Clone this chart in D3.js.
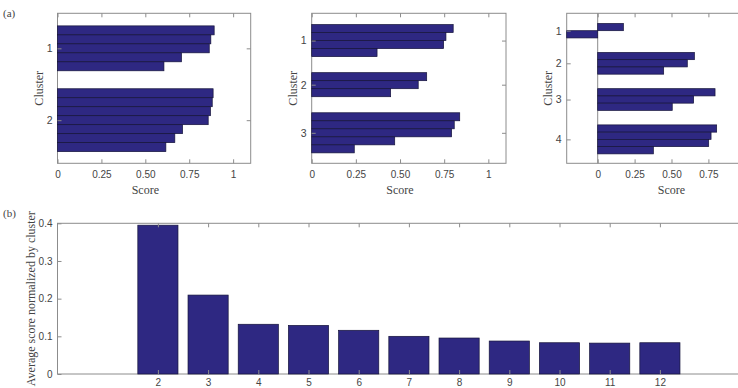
<html>
<head>
<script src="https://d3js.org/d3.v7.min.js"></script>
<style>
body { margin: 0; background: #fff; }
svg { font-family: "Liberation Serif", "Times New Roman", serif; }
.axis text { font-size: 10px; fill: #444; }
.axis line { stroke: #8c8c8c; }
.axis path { display: none; }
.box { fill: none; stroke: #8c8c8c; stroke-width: 1; }
.label { font-size: 12px; fill: #444; }
rect.bar { fill: #2e2882; stroke: #15133a; stroke-width: 0.7; }
</style>
</head>
<body>
<div id="plot"></div>
<script>
// Silhouette scores per cluster, panel (a)
var scores2 = [
  [0.892, 0.873, 0.864, 0.706, 0.606],
  [0.886, 0.881, 0.871, 0.858, 0.712, 0.668, 0.617]
];
var scores3 = [
  [0.801, 0.760, 0.747, 0.370],
  [0.651, 0.603, 0.447],
  [0.838, 0.807, 0.792, 0.470, 0.241]
];
var scores4 = [
  [0.174, -0.21],
  [0.655, 0.607, 0.447],
  [0.795, 0.650, 0.505],
  [0.806, 0.768, 0.752, 0.377]
];
var scoreTicks = [0, 0.25, 0.5, 0.75, 1];

// Panel (b)
var kValues = [2, 3, 4, 5, 6, 7, 8, 9, 10, 11, 12];
var avgScores = [0.395, 0.2095, 0.132, 0.129, 0.116, 0.100, 0.0955, 0.0875, 0.083, 0.082, 0.083];
var avgTicks = [0, 0.1, 0.2, 0.3, 0.4];

var width = 738, height = 388;
var svg = d3.select("#plot").append("svg").attr("width", width).attr("height", height);

var scoreFormat = function (d) { return (d === 0 || d === 1) ? d : d.toFixed(2); };

// One silhouette panel: bars stacked per cluster with gaps between clusters
function silhouette(data, left, right, top, bottom, xDomain, ticks) {
  var padTop = 1.4, padBottom = 1.3, gap = 2;
  var total = padTop + padBottom + gap * (data.length - 1) + d3.sum(data, function (c) { return c.length; });

  var x = d3.scaleLinear().domain(xDomain).range([left, right]);
  var y = d3.scaleLinear().domain([0, total]).range([top, bottom]);

  var g = svg.append("g");
  var rows = [], centers = [];
  var pos = padTop;
  data.forEach(function (c, ci) {
    centers.push({ name: ci + 1, pos: pos + c.length / 2 });
    c.forEach(function (v) { rows.push({ v: v, pos: pos }); pos += 1; });
    pos += gap;
  });

  g.append("rect").attr("class", "box")
    .attr("x", left).attr("y", top).attr("width", right - left).attr("height", bottom - top);

  if (xDomain[0] < 0) {
    g.append("line").attr("x1", x(0)).attr("x2", x(0)).attr("y1", top).attr("y2", bottom)
      .attr("stroke", "#8c8c8c");
  }

  g.selectAll("rect.bar").data(rows).enter().append("rect").attr("class", "bar")
    .attr("x", function (d) { return x(Math.min(0, d.v)); })
    .attr("width", function (d) { return Math.abs(x(d.v) - x(0)); })
    .attr("y", function (d) { return y(d.pos); })
    .attr("height", function (d) { return y(d.pos + 1) - y(d.pos); });

  g.append("g").attr("class", "axis").attr("transform", "translate(0," + bottom + ")")
    .call(d3.axisBottom(x).tickValues(ticks).tickFormat(scoreFormat).tickSize(-4).tickPadding(8));
  g.append("g").attr("class", "axis").attr("transform", "translate(0," + top + ")")
    .call(d3.axisTop(x).tickValues(ticks).tickFormat("").tickSize(-4));

  var la = g.append("g").attr("class", "axis").attr("transform", "translate(" + left + ",0)")
    .call(d3.axisLeft(y).tickValues(centers.map(function (c) { return c.pos; }))
      .tickFormat(function (d, i) { return centers[i].name; }).tickSize(-4).tickPadding(5));
  la.selectAll("text").style("font-size", "10.5px");
  g.append("g").attr("class", "axis").attr("transform", "translate(" + right + ",0)")
    .call(d3.axisRight(y).tickValues(centers.map(function (c) { return c.pos; })).tickFormat("").tickSize(-4));

  g.append("text").attr("class", "label").attr("text-anchor", "middle")
    .attr("x", (x(0) + x(1)) / 2).attr("y", bottom + 31).text("Score");
  g.append("text").attr("class", "label").attr("text-anchor", "middle")
    .attr("transform", "translate(" + (left - 14.5) + "," + ((top + bottom) / 2) + ") rotate(-90)")
    .text("Cluster");
}

silhouette(scores2, 57.5, 250.7, 13.3, 163.3, [0, 1.1], scoreTicks);
silhouette(scores3, 311.7, 506, 13.3, 163.3, [0, 1.1], scoreTicks);
silhouette(scores4, 566.7, 745.3, 13.3, 163.3, [-0.21, 1], [0, 0.25, 0.5, 0.75]);

svg.append("text").attr("class", "label").attr("x", 3).attr("y", 17).style("font-size", "11px").text("(a)");
svg.append("text").attr("class", "label").attr("x", 3).attr("y", 217).style("font-size", "11px").text("(b)");

// Panel (b): average score by number of clusters
var bLeft = 57.5, bRight = 760.3, bTop = 223.3, bBottom = 374;
var xb = d3.scaleLinear().domain([0, 14]).range([bLeft, bRight]);
var yb = d3.scaleLinear().domain([0, 0.4]).range([bBottom, bTop]);
var gb = svg.append("g");

gb.append("rect").attr("class", "box")
  .attr("x", bLeft).attr("y", bTop).attr("width", bRight - bLeft).attr("height", bBottom - bTop);

gb.selectAll("rect.bar").data(kValues).enter().append("rect").attr("class", "bar")
  .attr("x", function (d) { return xb(d - 0.4); })
  .attr("width", xb(0.8) - xb(0))
  .attr("y", function (d, i) { return yb(avgScores[i]); })
  .attr("height", function (d, i) { return yb(0) - yb(avgScores[i]); });

gb.append("g").attr("class", "axis").attr("transform", "translate(0," + bBottom + ")")
  .call(d3.axisBottom(xb).tickValues(kValues).tickSize(-4).tickPadding(5));
gb.append("g").attr("class", "axis").attr("transform", "translate(0," + bTop + ")")
  .call(d3.axisTop(xb).tickValues(kValues).tickFormat("").tickSize(-4));
gb.append("g").attr("class", "axis").attr("transform", "translate(" + bLeft + ",0)")
  .call(d3.axisLeft(yb).tickValues(avgTicks).tickFormat(function (d) { return d; }).tickSize(-4).tickPadding(5));

gb.append("text").attr("class", "label").attr("text-anchor", "middle")
  .attr("transform", "translate(35," + ((bTop + bBottom) / 2) + ") rotate(-90)")
  .text("Average score normalized by cluster");
</script>
</body>
</html>
